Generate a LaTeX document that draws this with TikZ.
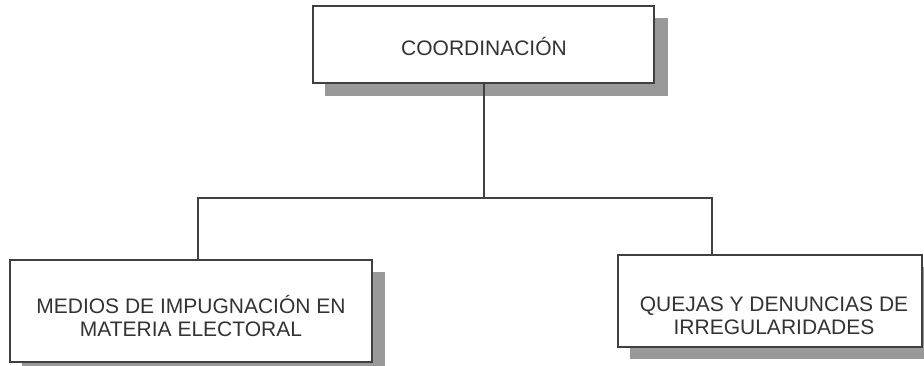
\documentclass[tikz,border=0pt]{standalone}
\usepackage{fontspec}
\setmainfont{Liberation Sans}
\tikzset{
  orgbox/.style={draw=black!75, line width=1.4pt, fill=white},
  shade/.style={fill=black!40, draw=none},
  conn/.style={draw=black!75, line width=1.3pt},
  lbl/.style={font=\fontsize{21}{23}\selectfont, text=black!80, align=center}
}
\begin{document}
\begin{tikzpicture}[x=1pt,y=-1pt]
\useasboundingbox (0,0) rectangle (924,366);
% shadows
\fill[shade] (325,18) rectangle (668,96);
\fill[shade] (22,272) rectangle (385,372);
\fill[shade] (630,267) rectangle (936,359);
% boxes
\draw[orgbox] (313,6) rectangle (654,83);
\draw[orgbox] (10,260) rectangle (372,362);
\draw[orgbox] (618,255) rectangle (922,347);
\node[lbl] (top) at (484,46) {COORDINACIÓN};
\node[lbl] (left) at (191,316) {MEDIOS DE IMPUGNACIÓN EN\\MATERIA ELECTORAL};
\node[lbl] (right) at (774,316) {QUEJAS Y DENUNCIAS DE\\IRREGULARIDADES};
\coordinate (topb) at (484,83);
\coordinate (mid) at (484,198);
\coordinate (lj) at (198,198);
\coordinate (rj) at (712,198);
\coordinate (lt) at (198,260);
\coordinate (rt) at (712,255);
\draw[conn] (topb) -- (mid);
\draw[conn] (lt) -- (lj) -- (rj) -- (rt);
\end{tikzpicture}
\end{document}
